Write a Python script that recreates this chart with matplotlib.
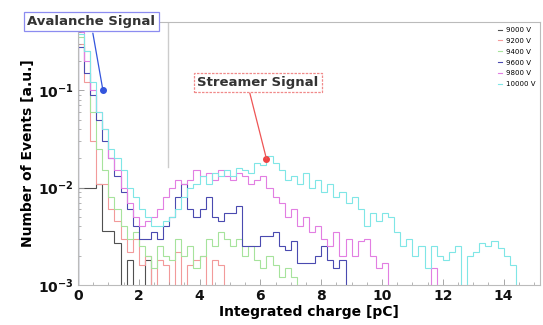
import numpy as np
import matplotlib
matplotlib.use("Agg")
import matplotlib.pyplot as plt
from matplotlib.ticker import LogLocator, MultipleLocator, NullFormatter

# Integrated-charge histograms, bin width 0.2 pC starting at 0 pC
bin_width = 0.2
n_bins = 76

labels = ["9000 V", "9200 V", "9400 V", "9600 V", "9800 V", "10000 V"]
colors = ["#505050", "#f29a9a", "#a6e39c", "#4a4ab0", "#e27ee2", "#7fe6e6"]

h9000 = [0.010, 0.010, 0.010, 0.011, 0.0036, 0.0036, 0.0027, 0, 0.0018, 0,
         0, 0.0018]
h9200 = [0.30, 0.12, 0.030, 0.011, 0.011, 0.006, 0.0045, 0.003, 0.0022, 0.003,
         0.0016, 0.002, 0, 0.0018, 0.0016, 0, 0.0022, 0, 0.0016, 0.0018,
         0.0020, 0, 0.0018, 0.0016]
h9400 = [0.35, 0.25, 0.06, 0.025, 0.015, 0.008, 0.006, 0.004, 0.003, 0.0035,
         0.0025, 0.002, 0.0015, 0.0025, 0.002, 0.0018, 0.003, 0.002, 0.0025, 0.0015,
         0.002, 0.003, 0.0025, 0.0035, 0.003, 0.0025, 0.003, 0.002, 0.0025, 0.0018,
         0.0015, 0.002, 0.0016, 0.0012, 0.0015, 0.0012]
h9600 = [0.28, 0.15, 0.09, 0.05, 0.03, 0.02, 0.013, 0.009, 0.006, 0.004,
         0.003, 0.003, 0.0035, 0.003, 0.004, 0.005, 0.008, 0.011, 0.006, 0.005,
         0.006, 0.008, 0.005, 0.0045, 0.0055, 0.0055, 0.0065, 0.0025, 0.0025, 0.0025,
         0.0032, 0.0032, 0.0035, 0.0025, 0.0023, 0.0028, 0.0017, 0.0017, 0.0017, 0.002,
         0.0025, 0.0018, 0.0015, 0.0018]
h9800 = [0.40, 0.20, 0.10, 0.06, 0.04, 0.02, 0.015, 0.010, 0.007, 0.005,
         0.004, 0.0045, 0.005, 0.006, 0.008, 0.010, 0.012, 0.011, 0.012, 0.015,
         0.013, 0.014, 0.012, 0.015, 0.013, 0.012, 0.014, 0.013, 0.011, 0.012,
         0.013, 0.010, 0.008, 0.007, 0.005, 0.006, 0.004, 0.005, 0.0035, 0.004,
         0.003, 0.0025, 0.0035, 0.002, 0.003, 0.002, 0.0028, 0.003, 0.002, 0.0015,
         0.0017, 0, 0, 0, 0, 0, 0, 0, 0.0015]
h10000 = [0.38, 0.25, 0.12, 0.06, 0.04, 0.025, 0.020, 0.015, 0.010, 0.008,
          0.006, 0.005, 0.004, 0.004, 0.0045, 0.005, 0.006, 0.008, 0.010, 0.011,
          0.013, 0.011, 0.014, 0.013, 0.015, 0.013, 0.016, 0.015, 0.014, 0.018,
          0.017, 0.021, 0.018, 0.015, 0.012, 0.013, 0.011, 0.014, 0.010, 0.012,
          0.009, 0.011, 0.008, 0.009, 0.007, 0.008, 0.006, 0.004, 0.0055, 0.0045,
          0.0055, 0.005, 0.0035, 0.0025, 0.003, 0.002, 0.0025, 0.0015, 0.0025, 0.002,
          0.0018, 0.0022, 0.0025, 0, 0.002, 0.0022, 0.0027, 0.0025, 0.0028, 0.0024,
          0.002, 0.0016]

series = [h9000, h9200, h9400, h9600, h9800, h10000]

# Callout targets (data coordinates)
avalanche_pt = (0.82, 0.1)
streamer_pt = (6.2, 0.0197)

fig = plt.figure(figsize=(5.43, 3.25), dpi=100)
ax = fig.add_axes([0.1436, 0.1231, 0.851, 0.8089])

edges = np.arange(n_bins + 1) * bin_width
floor = 1e-5  # empty bins drop below the axis
for vals, col, lab in zip(series, colors, labels):
    v = np.zeros(n_bins)
    v[:len(vals)] = vals
    v = np.where(v > 0, v, floor)
    ax.stairs(v, edges, baseline=floor, color=col, lw=0.8, label=lab)

ax.set_yscale("log")
ax.set_xlim(0, 15.2)
ax.set_ylim(1e-3, 0.5)

ax.xaxis.set_major_locator(MultipleLocator(2))
ax.xaxis.set_minor_locator(MultipleLocator(0.5))
ax.yaxis.set_major_locator(LogLocator(base=10, numticks=10))
ax.yaxis.set_minor_locator(LogLocator(base=10, subs=np.arange(2, 10), numticks=10))
ax.yaxis.set_minor_formatter(NullFormatter())
ax.tick_params(which="both", direction="in", colors="#999999", labelcolor="#111111")
ax.tick_params(which="major", length=4, width=0.6, labelsize=10, pad=3)
ax.tick_params(which="minor", length=2, width=0.5)
for lbl in ax.get_xticklabels() + ax.get_yticklabels():
    lbl.set_fontweight("bold")

for side in ["left", "right", "top", "bottom"]:
    ax.spines[side].set_color("#bbbbbb")
    ax.spines[side].set_linewidth(0.8)

ax.axvline(2.95, ymin=0.45, ymax=1.0, color="#cccccc", lw=1.0)

ax.set_xlabel("Integrated charge [pC]", fontsize=10, fontweight="bold", labelpad=1)
ax.set_ylabel("Number of Events [a.u.]", fontsize=10, fontweight="bold", labelpad=2)

ax.legend(loc="upper right", frameon=False, fontsize=5, handlelength=0.6,
          handletextpad=0.5, labelspacing=0.7, borderaxespad=0.3)

# Callouts for the two signal populations
ax.annotate("", xy=avalanche_pt, xycoords="data",
            xytext=(0.171, 0.898), textcoords="figure fraction",
            arrowprops=dict(arrowstyle="-", color="#3355dd", lw=0.9,
                            shrinkA=0, shrinkB=0))
ax.plot(*avalanche_pt, "o", color="#3355dd", ms=4)
fig.text(0.168, 0.934, "Avalanche Signal", ha="center", va="center",
         fontsize=9.5, fontweight="bold", color="#333333",
         bbox=dict(boxstyle="square,pad=0.25", fc="white", ec="#8c8cf0", lw=0.9))

ax.annotate("", xy=streamer_pt, xycoords="data",
            xytext=(0.460, 0.714), textcoords="figure fraction",
            arrowprops=dict(arrowstyle="-", color="#ee5555", lw=0.9,
                            shrinkA=0, shrinkB=0))
ax.plot(*streamer_pt, "o", color="#ee4444", ms=4)
fig.text(0.475, 0.746, "Streamer Signal", ha="center", va="center",
         fontsize=9.5, fontweight="bold", color="#333333",
         bbox=dict(boxstyle="square,pad=0.25", fc="white", ec="#f08a8a",
                   lw=0.9, ls=(0, (2, 1))))

fig.savefig("out.png", dpi=100)
